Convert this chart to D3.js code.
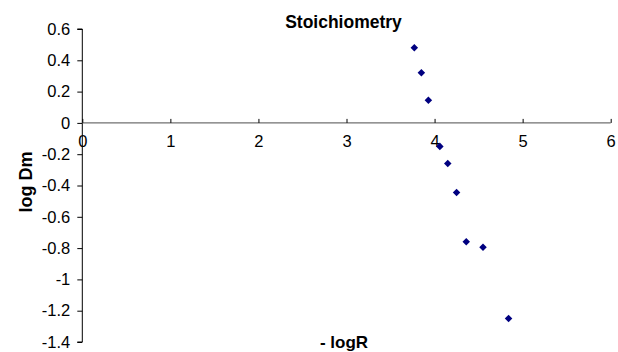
<!DOCTYPE html>
<html><head><meta charset="utf-8">
<script src="https://cdn.jsdelivr.net/npm/d3@7"></script>
<style>body{margin:0;background:#fff}text{font-family:"Liberation Sans",Arial,sans-serif}</style>
</head><body><svg id="c" width="618" height="352"></svg>
<script>
const xVals = [3.77, 3.85, 3.93, 4.06, 4.15, 4.25, 4.36, 4.55, 4.84];
const yVals = [0.48, 0.32, 0.145, -0.15, -0.26, -0.445, -0.76, -0.795, -1.25];
const xTicks = [0, 1, 2, 3, 4, 5, 6];
const yTicks = [0.6, 0.4, 0.2, 0, -0.2, -0.4, -0.6, -0.8, -1, -1.2, -1.4];
const title = "Stoichiometry", xTitle = "- logR", yTitle = "log Dm";

const svg = d3.select("#c");
const x = d3.scaleLinear().domain([0, 6]).range([82.3, 610.7]);
const y = d3.scaleLinear().domain([-1.4, 0.6]).range([342, 29]);
const FF = "Liberation Sans, Arial, sans-serif";

// y axis
const ya = svg.append("g").attr("transform", `translate(${x(0)},0)`)
  .call(d3.axisLeft(y).tickValues(yTicks).tickSize(5).tickPadding(7).tickFormat(d => String(+d.toFixed(1))));
ya.select(".domain").attr("stroke", "#000").attr("d", `M-5,${y(0.6)}H0V${y(-1.4)}H-5`);
ya.selectAll(".tick line").attr("stroke", "#000");
ya.selectAll(".tick text").attr("font-size", 16.5).attr("font-family", FF).attr("fill", "#000");

// x axis at y=0
const xa = svg.append("g").attr("transform", `translate(0,${y(0)})`)
  .call(d3.axisBottom(x).tickValues(xTicks).tickSize(-4).tickPadding(6).tickFormat(d3.format("d")));
xa.select(".domain").attr("stroke", "#707070").attr("stroke-width", 1.2).attr("d", `M${x(0)},0H${x(6)}`);
xa.selectAll(".tick line").attr("stroke", "#000");
xa.selectAll(".tick text").attr("font-size", 16.5).attr("font-family", FF).attr("fill", "#000")
  .attr("y", 24.5).attr("dy", 0);

// points
svg.append("g").selectAll("path").data(xVals).join("path")
  .attr("d", d3.symbol(d3.symbolDiamond2, 36))
  .attr("transform", (d, i) => `translate(${x(d)},${y(yVals[i])})`)
  .attr("fill", "#000080");

svg.append("text").attr("x", 343.5).attr("y", 28).attr("text-anchor", "middle")
  .attr("font-weight", "bold").attr("font-size", 17.5).text(title);
svg.append("text").attr("x", 344).attr("y", 347.5).attr("text-anchor", "middle")
  .attr("font-weight", "bold").attr("font-size", 17).text(xTitle);
svg.append("text").attr("transform", "translate(32,182) rotate(-90)").attr("text-anchor", "middle")
  .attr("font-weight", "bold").attr("font-size", 18).text(yTitle);
</script></body></html>
